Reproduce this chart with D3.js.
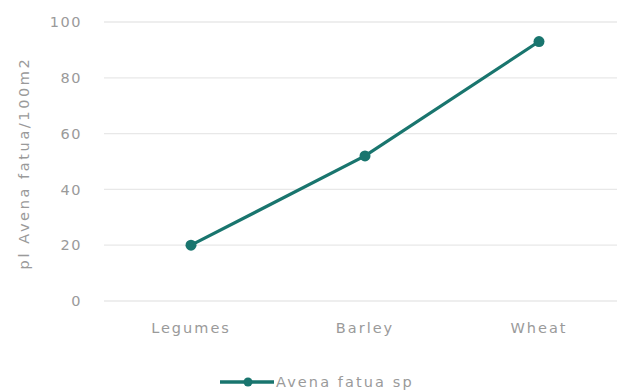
<!DOCTYPE html>
<html>
<head>
<meta charset="utf-8">
<script src="https://cdn.jsdelivr.net/npm/d3@7"></script>
<style>
  body { margin: 0; background: #fff; }
  text { font-family: "DejaVu Sans", sans-serif; }
</style>
</head>
<body>
<script>
var w = 625;
var h = 392;

// data
var categories = ["Legumes", "Barley", "Wheat"];
var avenaValues = [20, 52, 93];
var yTicks = [0, 20, 40, 60, 80, 100];
var seriesName = "Avena fatua sp";
var yTitle = "pl Avena fatua/100m2";

var lineColor = "#19756e";
var textColor = "#9a9a9a";

var svg = d3.select("body")
    .append("svg")
    .attr("width", w)
    .attr("height", h);

var x = d3.scaleBand()
    .domain(categories)
    .range([104, 626])
    .padding(0);

var y = d3.scaleLinear()
    .domain([0, 100])
    .range([301, 22]);

// gridlines
svg.append("g")
    .selectAll("line")
    .data(yTicks)
    .enter()
    .append("line")
    .attr("x1", 104)
    .attr("x2", 617)
    .attr("y1", function(d) { return y(d); })
    .attr("y2", function(d) { return y(d); })
    .attr("stroke", "#e8e8e8")
    .attr("stroke-width", 1.3);

// y axis labels
var yAxis = d3.axisLeft(y).tickValues(yTicks).tickSize(0).tickPadding(0);
var gy = svg.append("g")
    .attr("transform", "translate(82,0)")
    .call(yAxis);
gy.select(".domain").remove();
gy.selectAll("text")
    .attr("fill", textColor)
    .style("font-size", "14.5px")
    .style("letter-spacing", "1.5px");

// x axis labels
var xAxis = d3.axisBottom(x).tickSize(0).tickPadding(0);
var gx = svg.append("g")
    .attr("transform", "translate(0,323)")
    .call(xAxis);
gx.select(".domain").remove();
gx.selectAll("text")
    .attr("fill", textColor)
    .style("font-size", "14.5px")
    .style("letter-spacing", "2px");

// y axis title
svg.append("text")
    .attr("transform", "translate(24,163) rotate(-90)")
    .attr("text-anchor", "middle")
    .attr("dy", "0.35em")
    .attr("fill", textColor)
    .style("font-size", "14.5px")
    .style("letter-spacing", "2.6px")
    .text(yTitle);

// the line
var line = d3.line()
    .x(function(d, i) { return x(categories[i]) + x.bandwidth() / 2; })
    .y(function(d) { return y(d); });

svg.append("path")
    .datum(avenaValues)
    .attr("d", line)
    .attr("fill", "none")
    .attr("stroke", lineColor)
    .attr("stroke-width", 3.2);

svg.selectAll("circle.pt")
    .data(avenaValues)
    .enter()
    .append("circle")
    .attr("class", "pt")
    .attr("cx", function(d, i) { return x(categories[i]) + x.bandwidth() / 2; })
    .attr("cy", function(d) { return y(d); })
    .attr("r", 5.5)
    .attr("fill", lineColor);

// legend
var legend = svg.append("g").attr("transform", "translate(220,382)");
legend.append("line")
    .attr("x1", 0).attr("x2", 54)
    .attr("y1", 0).attr("y2", 0)
    .attr("stroke", lineColor)
    .attr("stroke-width", 3.5);
legend.append("circle")
    .attr("cx", 28).attr("cy", 0).attr("r", 4.5)
    .attr("fill", lineColor);
legend.append("text")
    .attr("x", 56)
    .attr("y", 0)
    .attr("dy", "0.35em")
    .attr("fill", textColor)
    .style("font-size", "14.5px")
    .style("letter-spacing", "2.1px")
    .text(seriesName);
</script>
</body>
</html>
